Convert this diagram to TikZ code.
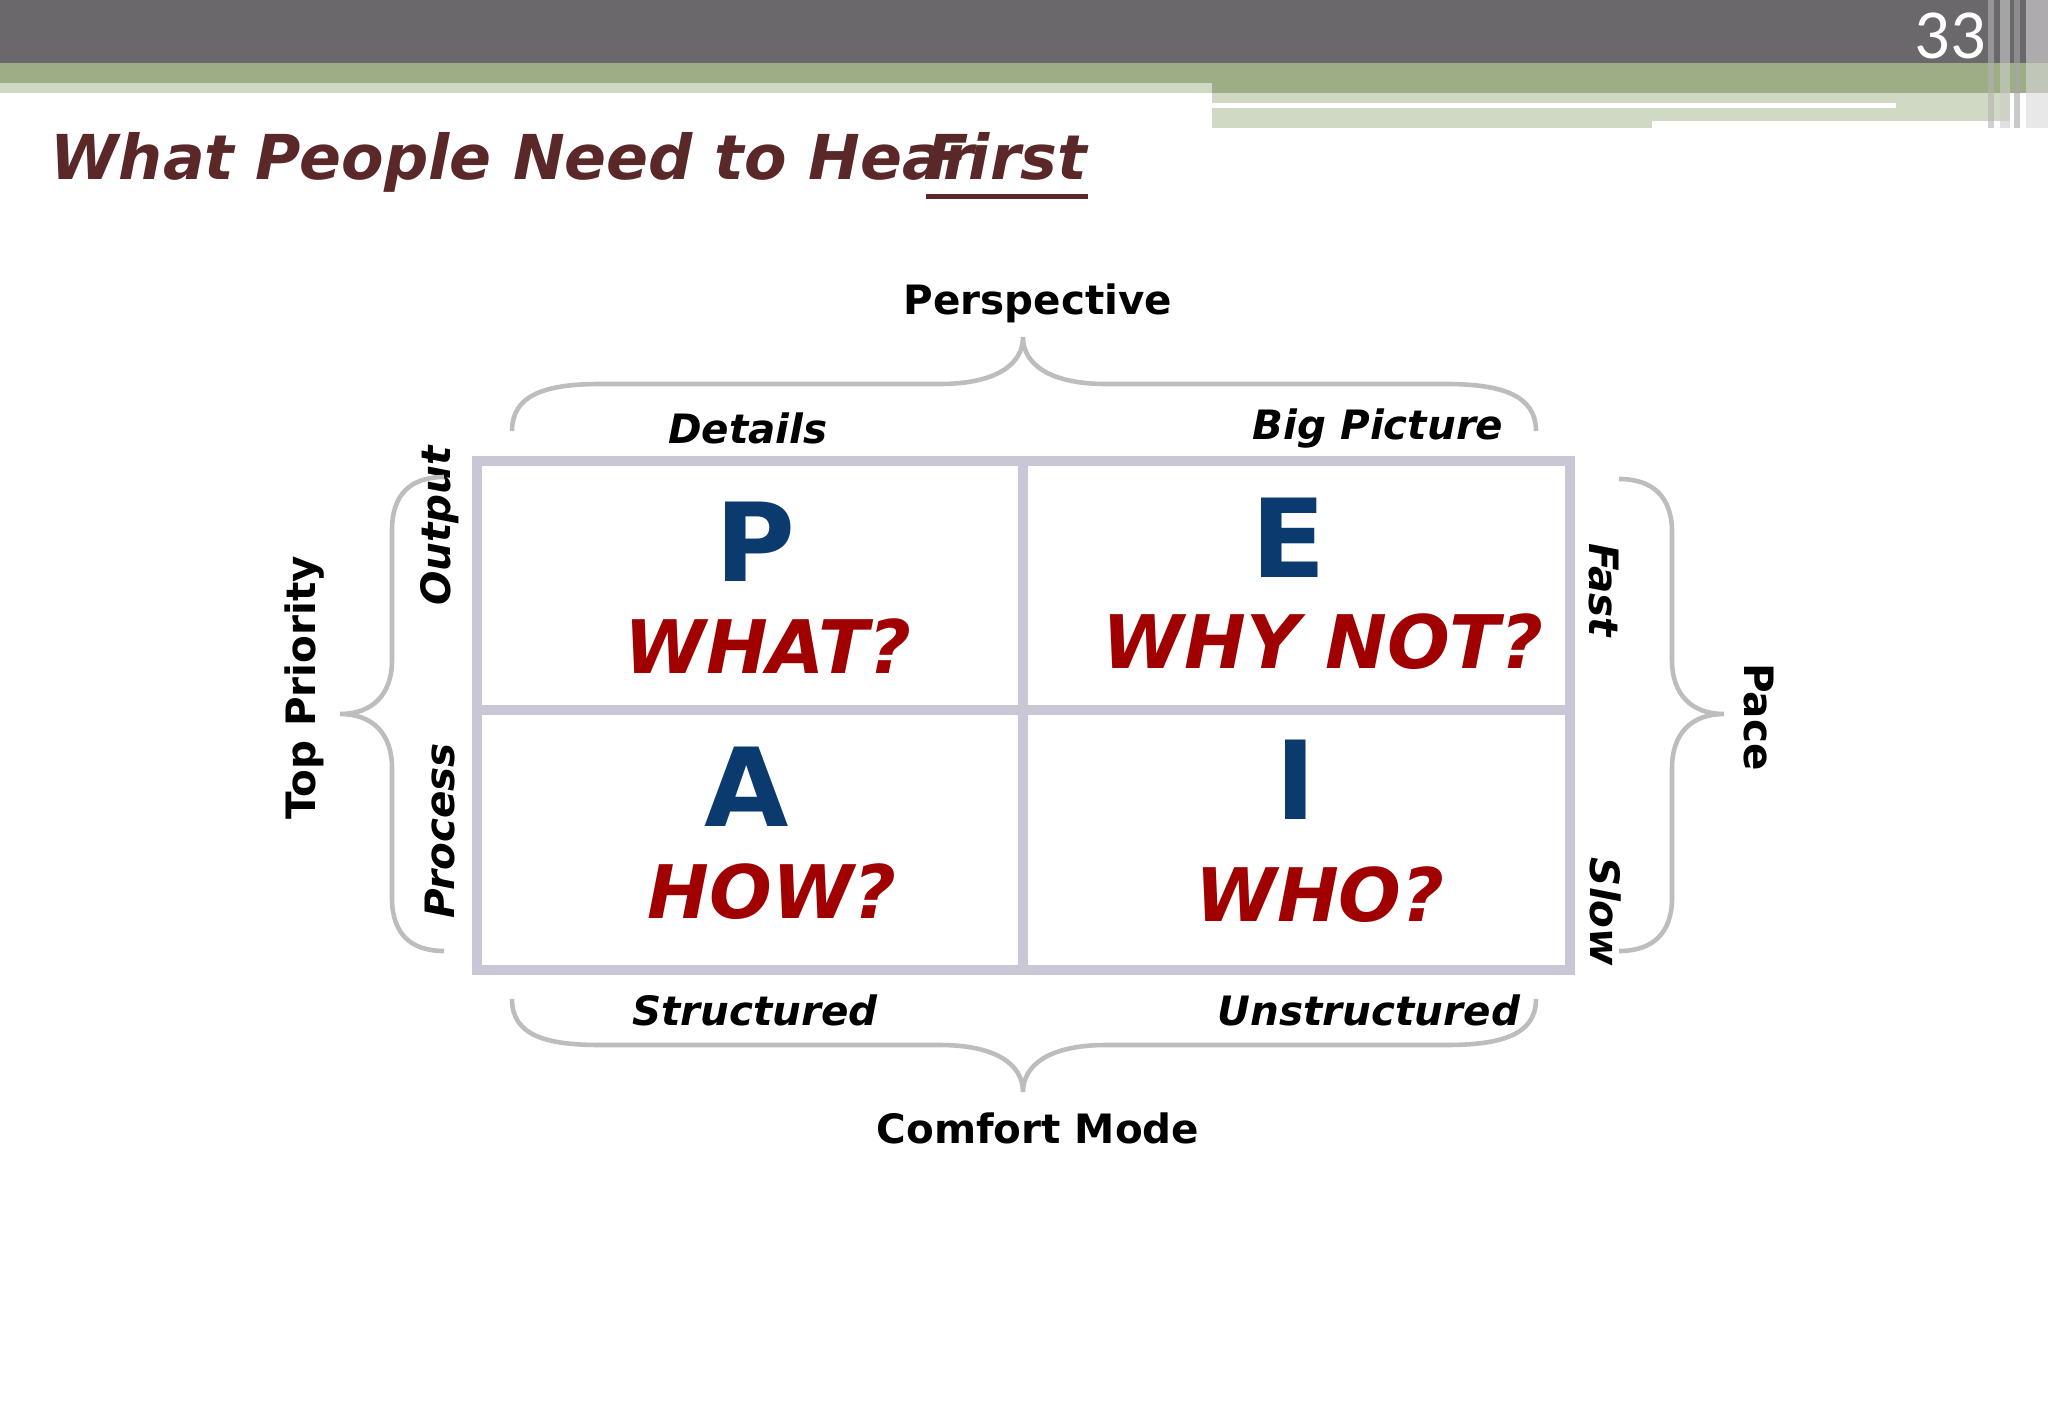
\documentclass[tikz,border=0pt]{standalone}
\usepackage{fontspec}
\setmainfont{DejaVu Sans}
\newfontfamily\numfont{Carlito}
\begin{document}
\begin{tikzpicture}[x=0.01cm,y=-0.01cm,
  grid/.style={draw=gridc,line width=10*0.2845pt},
  brace/.style={draw=bracec,line width=1.3pt},
  lbl/.style={font=\fontsize{11.5}{13}\selectfont\bfseries},
  ilbl/.style={font=\fontsize{11.5}{13}\selectfont\bfseries\itshape},
  big/.style={text=bigblue,font=\fontsize{31}{33}\selectfont\bfseries},
  qn/.style={text=qred,font=\fontsize{21}{24}\selectfont\bfseries\itshape},
  tit/.style={anchor=base west,inner sep=0,text=titc,font=\fontsize{17.6}{20}\selectfont\bfseries\itshape}]
\definecolor{gridc}{HTML}{C9C7D5}
\definecolor{bracec}{HTML}{BDBDBD}
\definecolor{bigblue}{HTML}{0B3A6E}
\definecolor{qred}{HTML}{A00000}
\definecolor{titc}{HTML}{5A2828}
\definecolor{hgray}{HTML}{6B686C}
\definecolor{hgreen}{HTML}{9DAE87}
\definecolor{lgreen}{HTML}{CFD9C3}
\useasboundingbox (0,0) rectangle (2048,1418);
\fill[white] (0,0) rectangle (2048,1418);
% header
\fill[hgray] (0,0) rectangle (2048,63);
\fill[hgreen] (0,63) rectangle (2048,93);
\fill[lgreen] (0,83) rectangle (1212,93);
\fill[lgreen] (1212,93) rectangle (2010,128);
\fill[white] (1212,103) rectangle (1896,108);
\fill[white] (1652,121) rectangle (2010,130);
\fill[gray!60,opacity=0.6] (1988,0) rectangle (1994,128);
\fill[gray!40,opacity=0.6] (2000,0) rectangle (2010,128);
\fill[gray!70,opacity=0.6] (2014,0) rectangle (2020,128);
\fill[gray!30,opacity=0.6] (2026,0) rectangle (2048,128);
\node[text=white,font=\numfont\fontsize{20}{22}\selectfont,anchor=base] (num) at (1950,58) {33};
% title
\node[tit] (t1) at (50,179) {What People Need to Hear};
\node[tit] (t2) at ([xshift=-14] t1.base east) {First};
\draw[titc,line width=1.2pt] ([yshift=-5]t2.base west) -- ([yshift=-5]t2.base east);
% grid
\draw[grid] (477,461) rectangle (1570,970);
\draw[grid] (1023,461) -- (1023,970);
\draw[grid] (477,710) -- (1570,710);
% letters
\node[big] (P) at (755,542) {P};
\node[big] (E) at (1289,538) {E};
\node[big] (A) at (747,787) {A};
\node[big] (I) at (1296,780) {I};
\node[qn] (q1) at (768,646) {WHAT?};
\node[qn] (q2) at (1323,642) {WHY NOT?};
\node[qn] (q3) at (772,892) {HOW?};
\node[qn] (q4) at (1320,895) {WHO?};
% labels
\node[lbl] (persp) at (1038,303) {Perspective};
\node[ilbl] (det) at (748,428) {Details};
\node[ilbl] (bigp) at (1378,428) {Big Picture};
\node[ilbl] (str) at (755,1010) {Structured};
\node[ilbl] (unstr) at (1369,1010) {Unstructured};
\node[lbl] (cm) at (1038,1128) {Comfort Mode};
\node[lbl,rotate=90] (tp) at (304,688) {Top Priority};
\node[ilbl,rotate=90] (out) at (440,526) {Output};
\node[ilbl,rotate=90] (proc) at (440,831) {Process};
\node[ilbl,rotate=-90] (fast) at (1604,590) {Fast};
\node[ilbl,rotate=-90] (slow) at (1606,912) {Slow};
\node[lbl,rotate=-90] (pace) at (1759,717) {Pace};
% braces
\draw[brace] (512,431) .. controls (512,395) and (545,384) .. (600,384) -- (940,384) .. controls (995,384) and (1023,365) .. (1023,337) .. controls (1023,365) and (1051,384) .. (1106,384) -- (1446,384) .. controls (1501,384) and (1536,395) .. (1536,431);
\draw[brace] (512,999) .. controls (512,1035) and (545,1045) .. (600,1045) -- (940,1045) .. controls (995,1045) and (1023,1064) .. (1023,1092) .. controls (1023,1064) and (1051,1045) .. (1106,1045) -- (1446,1045) .. controls (1501,1045) and (1536,1035) .. (1536,999);
\draw[brace] (444,477) .. controls (410,477) and (392,495) .. (392,530) -- (392,660) .. controls (392,695) and (372,714) .. (340,714) .. controls (372,714) and (392,733) .. (392,768) -- (392,898) .. controls (392,933) and (410,951) .. (444,951);
\draw[brace] (1619,479) .. controls (1653,479) and (1672,497) .. (1672,532) -- (1672,660) .. controls (1672,695) and (1692,714) .. (1724,714) .. controls (1692,714) and (1672,733) .. (1672,768) -- (1672,898) .. controls (1672,933) and (1653,951) .. (1619,951);
\end{tikzpicture}
\end{document}
